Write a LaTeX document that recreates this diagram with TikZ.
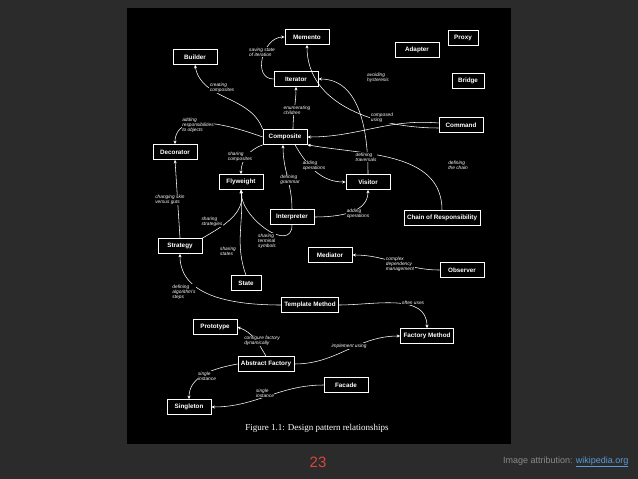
\documentclass[tikz,border=0pt]{standalone}
\usepackage{fontspec}
\setmainfont{Liberation Sans}
\newfontfamily\capfont{Liberation Serif}
\usetikzlibrary{arrows.meta}
\definecolor{slide}{HTML}{2B2B2B}
\definecolor{numred}{HTML}{D9463C}
\definecolor{attr}{HTML}{8A8A8A}
\definecolor{linkc}{HTML}{5B9BD5}
\tikzset{
 pat/.style={draw=white,line width=0.7pt,text=white,font=\bfseries\fontsize{6.3}{7}\selectfont,inner sep=3pt,minimum height=15pt,minimum width=44pt},
 lab/.style={text=white,font=\itshape\fontsize{4.8}{5}\selectfont,align=left,inner sep=0.5pt,fill=black},
 con/.style={draw=white,line width=0.55pt,-{Stealth[length=3.5pt,width=3pt]}}
}
\begin{document}
\begin{tikzpicture}[x=1pt,y=-1pt]
\fill[slide] (0,0) rectangle (638,479);
\useasboundingbox (0,0) rectangle (638,479);
\fill[black] (127,8) rectangle (511,444);
% nodes
\node[pat] (memento) at (307,37) {Memento};
\node[pat] (adapter) at (417,50) {Adapter};
\node[pat,minimum width=30pt] (proxy) at (463,38) {Proxy};
\node[pat] (builder) at (195,57) {Builder};
\node[pat] (iterator) at (296,79) {Iterator};
\node[pat,minimum width=32pt] (bridge) at (468,81) {Bridge};
\node[pat] (command) at (461,125) {Command};
\node[pat] (decorator) at (175,152) {Decorator};
\node[pat] (composite) at (285,137) {Composite};
\node[pat] (flyweight) at (241,182) {Flyweight};
\node[pat] (visitor) at (368,182) {Visitor};
\node[pat] (interpreter) at (292,217) {Interpreter};
\node[pat] (chain) at (442,218) {Chain of Responsibility};
\node[pat] (strategy) at (180,246) {Strategy};
\node[pat] (mediator) at (330,255) {Mediator};
\node[pat] (observer) at (462,270) {Observer};
\node[pat,minimum width=30pt] (state) at (246,283) {State};
\node[pat] (template) at (310,305) {Template Method};
\node[pat] (prototype) at (215,327) {Prototype};
\node[pat] (factory) at (427,336) {Factory Method};
\node[pat] (abstract) at (266,364) {Abstract Factory};
\node[pat] (facade) at (346,385) {Facade};
\node[pat] (singleton) at (189,407) {Singleton};
% connectors
\draw[con] (iterator.west) to[out=180,in=180,looseness=1.3] (memento.west);
\draw[con] (composite.north west) to[out=110,in=-80] (builder.south);
\draw[con] ([xshift=8pt]composite.north) to[out=90,in=-90] (iterator.south);
\draw[con] (composite.west) to[out=160,in=90] (decorator.north);
\draw[con] ([yshift=-3pt]command.west) to[out=180,in=-90] (memento.south);
\draw[con] ([yshift=2pt]command.west) to[out=175,in=0] (composite.east);
\draw[con] (visitor.north) to[out=90,in=0] (iterator.east);
\draw[con] (chain.north) to[out=90,in=-10] (composite.south east);
\draw[con] (composite.south west) to[out=200,in=90] (flyweight.north);
\draw[con] ([xshift=10pt]composite.south) to[out=-60,in=180] (visitor.west);
\draw[con] (interpreter.north) to[out=90,in=-90] ([xshift=-2pt]composite.south);
\draw[con] (interpreter.east) to[out=0,in=-90] (visitor.south);
\draw[con] (interpreter.south) to[out=-90,in=-90,looseness=1.2] (flyweight.south);
\draw[con] (strategy.north) to (decorator.south);
\draw[con] (strategy.north east) to[out=30,in=-80] (flyweight.south);
\draw[con] (state.north) to[out=110,in=-85] (flyweight.south);
\draw[con] (observer.west) to[out=180,in=0] (mediator.east);
\draw[con] (template.west) to[out=180,in=-90] (strategy.south);
\draw[con] (template.east) to[out=0,in=90] (factory.north);
\draw[con] (abstract.north) to[out=120,in=-20] (prototype.east);
\draw[con] (abstract.east) to[out=0,in=180] (factory.west);
\draw[con] (abstract.west) to[out=190,in=90] (singleton.north);
\draw[con] (facade.west) to[out=180,in=0] (singleton.east);
% labels
\node[lab] at (262,52) {saving state\\of iteration};
\node[lab] at (222,88) {creating\\composites};
\node[lab] at (297,110) {enumerating\\children};
\node[lab] at (198,125) {adding\\responsibilities\\to objects};
\node[lab] at (378,78) {avoiding\\hysteresis};
\node[lab] at (382,118) {composed\\using};
\node[lab] at (366,157) {defining\\traversals};
\node[lab] at (458,165) {defining\\the chain};
\node[lab] at (240,157) {sharing\\composites};
\node[lab] at (314,166) {adding\\operations};
\node[lab] at (290,180) {defining\\grammar};
\node[lab] at (358,214) {adding\\operations};
\node[lab] at (267,241) {sharing\\terminal\\symbols};
\node[lab] at (170,200) {changing skin\\versus guts};
\node[lab] at (212,222) {sharing\\strategies};
\node[lab] at (228,251) {sharing\\states};
\node[lab] at (400,264) {complex\\dependency\\management};
\node[lab] at (184,292) {defining\\algorithm's\\steps};
\node[lab] at (413,303) {often uses};
\node[lab] at (262,341) {configure factory\\dynamically};
\node[lab] at (349,346) {implement using};
\node[lab] at (207,376) {single\\instance};
\node[lab] at (265,393) {single\\instance};
\node[text=white,font=\capfont\fontsize{9}{10}\selectfont] (cap) at (317,428) {Figure 1.1: Design pattern relationships};
\node[text=numred,font=\fontsize{15}{16}\selectfont] (num) at (318,462) {23};
\node[text=attr,font=\fontsize{9}{10}\selectfont,anchor=east] (attrib) at (632,462) {Image attribution: \textcolor{linkc}{\underline{wikipedia.org}}};
\end{tikzpicture}
\end{document}
